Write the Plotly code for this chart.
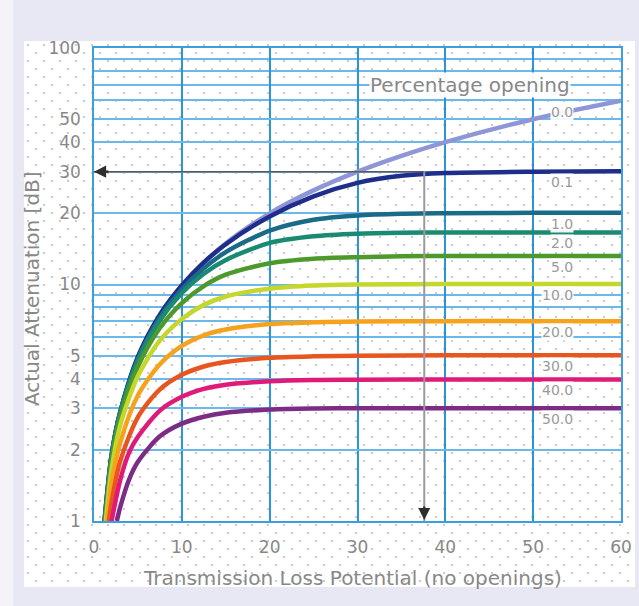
import base64
import math
import plotly.graph_objects as go

# ---------------- data ----------------
series_names = ["0.0", "0.1", "1.0", "2.0", "5.0", "10.0", "20.0", "30.0", "40.0", "50.0"]

tl_00 = [1.2, 2, 3, 5, 7.5, 10, 15, 20, 25, 30, 35, 40, 50, 60]
att_00 = [1.0, 1.9, 2.9, 4.9, 7.4, 9.9, 14.9, 20.0, 25.0, 30.0, 35.0, 40.0, 50.0, 59.8]

tl_01 = [1.2, 2, 3, 5, 7.5, 10, 12.5, 15, 20, 25, 30, 35, 40, 50, 60]
att_01 = [1.0, 1.9, 2.9, 4.95, 7.45, 9.9, 12.4, 14.8, 19.4, 23.6, 26.9, 28.8, 29.6, 30.0, 30.1]

tl_1 = [1.2, 2, 3, 5, 7.5, 10, 12.5, 15, 20, 25, 30, 35, 40, 50, 60]
att_1 = [1.0, 1.9, 2.9, 4.85, 7.25, 9.55, 11.7, 13.7, 16.9, 18.8, 19.6, 19.9, 20.0, 20.1, 20.1]

tl_2 = [1.25, 2, 3, 5, 7.5, 10, 12.5, 15, 20, 25, 30, 35, 40, 50, 60]
att_2 = [1.0, 1.85, 2.85, 4.75, 7.05, 9.2, 11.1, 12.7, 15.0, 16.0, 16.4, 16.55, 16.6, 16.6, 16.6]

tl_5 = [1.3, 2, 3, 5, 7.5, 10, 12.5, 15, 20, 25, 30, 35, 40, 50, 60]
att_5 = [1.0, 1.8, 2.75, 4.5, 6.55, 8.35, 9.85, 11.0, 12.3, 12.85, 13.05, 13.15, 13.2, 13.2, 13.2]

tl_10 = [1.35, 2, 3, 5, 7.5, 10, 12.5, 15, 20, 25, 30, 40, 50, 60]
att_10 = [1.0, 1.65, 2.55, 4.1, 5.8, 7.15, 8.2, 8.9, 9.6, 9.9, 10.0, 10.05, 10.05, 10.05]

tl_20 = [1.5, 2, 3, 5, 7.5, 10, 12.5, 15, 20, 25, 30, 40, 50, 60]
att_20 = [1.0, 1.45, 2.15, 3.4, 4.6, 5.5, 6.1, 6.45, 6.8, 6.92, 6.97, 7.0, 7.0, 7.0]

tl_30 = [1.7, 2, 3, 5, 7.5, 10, 12.5, 15, 20, 25, 30, 40, 50, 60]
att_30 = [1.0, 1.2, 1.8, 2.75, 3.6, 4.15, 4.5, 4.7, 4.9, 4.97, 5.0, 5.02, 5.02, 5.02]

tl_40 = [2.0, 3, 4, 5, 7.5, 10, 12.5, 15, 20, 25, 30, 40, 50, 60]
att_40 = [1.0, 1.5, 1.95, 2.27, 2.93, 3.35, 3.62, 3.77, 3.9, 3.95, 3.96, 3.97, 3.97, 3.97]

tl_50 = [2.6, 3, 4, 5, 7.5, 10, 12.5, 15, 20, 25, 30, 40, 50, 60]
att_50 = [1.0, 1.15, 1.5, 1.78, 2.28, 2.58, 2.76, 2.87, 2.96, 2.99, 3.0, 3.0, 3.0, 3.0]

series_x = [tl_00, tl_01, tl_1, tl_2, tl_5, tl_10, tl_20, tl_30, tl_40, tl_50]
series_y = [att_00, att_01, att_1, att_2, att_5, att_10, att_20, att_30, att_40, att_50]

x_tick_vals = [0, 10, 20, 30, 40, 50, 60]
y_tick_vals = [1, 2, 3, 4, 5, 10, 20, 30, 40, 50, 100]
y_minor_vals = [6, 7, 8, 9, 60, 70, 80, 90]

# example reading: TL potential 37.6 at 0.1 % opening -> 30 dB
example_tl = 37.6
example_att = 30

# ---------------- styles ----------------
colors = ["#8e96d8", "#1f2e8a", "#1a6b87", "#1b8a72", "#4d9a2c",
          "#c5d62c", "#f6a21c", "#e8551f", "#e01a78", "#7d2c85"]

W, H = 639, 606
ML, MR, MT, MB = 94, 18, 48, 85
PW, PH = W - ML - MR, H - MT - MB

FONT = "DejaVu Sans"
TEXT = "#888888"
grid_h = "#6cb8ea"
grid_v = "#2a94da"

fig = go.Figure()

for name, xs, ys, col in zip(series_names, series_x, series_y, colors):
    fig.add_trace(go.Scatter(
        x=xs, y=ys, mode="lines", name=name,
        line=dict(color=col, width=4.5, shape="spline", smoothing=0.8),
        showlegend=False, hoverinfo="skip",
    ))

# example lines
fig.add_trace(go.Scatter(x=[0, example_tl], y=[example_att, example_att], mode="lines",
                         line=dict(color="#5a5a5a", width=1.5), showlegend=False, hoverinfo="skip"))
fig.add_trace(go.Scatter(x=[example_tl, example_tl], y=[1, example_att], mode="lines",
                         line=dict(color="#9a9a9a", width=2), showlegend=False, hoverinfo="skip"))

annotations = []
# arrowheads
annotations.append(dict(x=0, y=math.log10(example_att), xref="x", yref="y", ax=16, ay=0,
                        text="", showarrow=True, arrowhead=2, arrowsize=1.1, arrowwidth=2.2,
                        arrowcolor="#2e2e2e", standoff=0))
annotations.append(dict(x=example_tl, y=0, xref="x", yref="y", ax=0, ay=-16,
                        text="", showarrow=True, arrowhead=2, arrowsize=1.1, arrowwidth=2.2,
                        arrowcolor="#2e2e2e", standoff=1))

# curve labels
for name, ys in zip(series_names, series_y):
    annotations.append(dict(x=54.6, y=math.log10(ys[-1]), xref="x", yref="y",
                            xanchor="right", yanchor="middle", yshift=-11,
                            text=name, showarrow=False,
                            font=dict(family=FONT, size=14, color="#9a9a9a"),
                            bgcolor="rgba(255,255,255,0.92)", borderpad=0))

annotations.append(dict(x=42.8, y=(MT + PH - 85) / PH, xref="x", yref="paper",
                        text="Percentage opening", showarrow=False,
                        xanchor="center", yanchor="middle",
                        font=dict(family=FONT, size=20, color=TEXT),
                        bgcolor="rgba(255,255,255,0.95)", borderpad=0))

# axis titles
annotations.append(dict(x=(352 - ML) / PW, y=(MT + PH - 578) / PH, xref="paper", yref="paper",
                        text="Transmission Loss Potential (no openings)", showarrow=False,
                        xanchor="center", yanchor="middle",
                        font=dict(family=FONT, size=20, color=TEXT)))
annotations.append(dict(x=(32 - ML) / PW, y=(MT + PH - 289) / PH, xref="paper", yref="paper",
                        text="Actual Attenuation [dB]", showarrow=False, textangle=-90,
                        xanchor="center", yanchor="middle",
                        font=dict(family=FONT, size=20, color=TEXT)))

# dotted white panel as an svg image
PX0, PX1, PY0, PY1 = 24, 635, 41, 587
pw, ph = PX1 - PX0, PY1 - PY0
svg = (f'<svg xmlns="http://www.w3.org/2000/svg" width="{pw}" height="{ph}">'
       '<defs><pattern id="d" width="16" height="16" patternUnits="userSpaceOnUse">'
       '<circle cx="4" cy="4" r="0.9" fill="#b2b2b2"/>'
       '<circle cx="12" cy="12" r="0.9" fill="#b2b2b2"/></pattern></defs>'
       '<rect width="100%" height="100%" fill="#ffffff"/>'
       '<rect width="100%" height="100%" fill="url(#d)"/></svg>')
src = "data:image/svg+xml;base64," + base64.b64encode(svg.encode()).decode()

images = [dict(source=src, xref="paper", yref="paper",
               x=(PX0 - ML) / PW, y=(MT + PH - PY0) / PH,
               sizex=pw / PW, sizey=ph / PH, xanchor="left", yanchor="top",
               sizing="stretch", layer="below")]

shapes = [dict(type="rect", xref="paper", yref="paper",
               x0=(0 - ML) / PW, x1=(13 - ML) / PW,
               y0=(MT + PH - H) / PH, y1=(MT + PH) / PH,
               fillcolor="#f3f3f9", line=dict(width=0), layer="below")]

fig.update_layout(
    width=W, height=H,
    margin=dict(l=ML, r=MR, t=MT, b=MB, autoexpand=False),
    paper_bgcolor="#e8e8f4",
    plot_bgcolor="rgba(0,0,0,0)",
    font=dict(family=FONT, color=TEXT),
    annotations=annotations,
    images=images,
    shapes=shapes,
    showlegend=False,
)

fig.update_xaxes(
    range=[0, 60], tickmode="array", tickvals=x_tick_vals,
    ticktext=[str(v) for v in x_tick_vals],
    showgrid=True, gridcolor=grid_v, gridwidth=1.5,
    showline=True, mirror=True, linecolor="#3a9ee0", linewidth=1.5,
    zeroline=False, ticks="", ticklabelstandoff=10,
    tickfont=dict(family=FONT, size=17, color=TEXT),
)
fig.update_yaxes(
    type="log", range=[0, 2], tickmode="array", tickvals=y_tick_vals,
    ticktext=[str(v) for v in y_tick_vals],
    showgrid=True, gridcolor=grid_h, gridwidth=1.5,
    minor=dict(tickmode="array", tickvals=y_minor_vals, showgrid=True,
               gridcolor=grid_h, gridwidth=1.5, ticks=""),
    showline=True, mirror=True, linecolor="#3a9ee0", linewidth=1.5,
    zeroline=False, ticks="", ticklabelstandoff=8,
    tickfont=dict(family=FONT, size=17, color=TEXT),
)

fig.write_html(
    "out.html",
    config={"displayModeBar": False},
    post_script="document.body.style.margin='0';document.body.style.padding='0';"
                "document.body.style.overflow='hidden';",
)
